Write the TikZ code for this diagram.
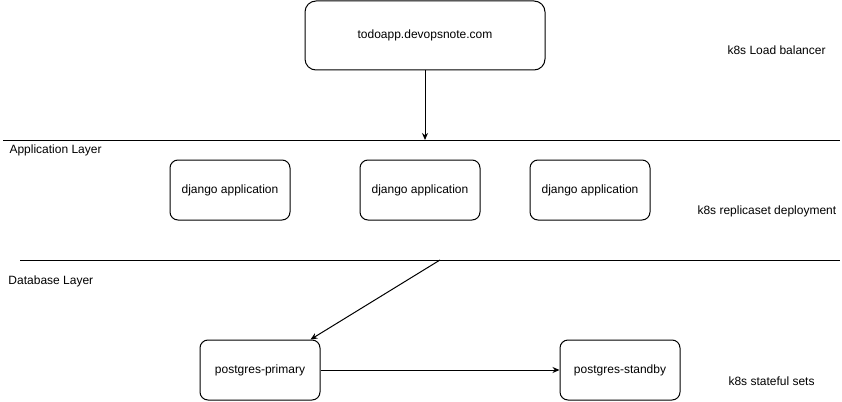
\documentclass[tikz,border=0pt]{standalone}
\usepackage{fontspec}
\setmainfont{Liberation Sans}
\usetikzlibrary{arrows.meta}

\begin{document}
\begin{tikzpicture}[x=1pt, y=-1pt, line width=1pt,
  every node/.style = {font=\fontsize{12}{14}\selectfont},
  podbox/.style = {shape=rectangle, rounded corners=8pt, draw,
    align=center, minimum width=120pt, minimum height=60pt},
  note/.style = {anchor=west, inner sep=0pt},
  link/.style = {-{Stealth[length=7pt, width=6pt]}}]
  \useasboundingbox (0,0) rectangle (842,401);
  % load balancer
  \node[podbox, rounded corners=11pt, minimum width=240pt,
    minimum height=69pt] (lb) at (425,35.5) {todoapp.devopsnote.com};
  \node[note] (lbnote) at (727,50) {k8s Load balancer};
  % layer borders
  \coordinate (appl) at (3,140);
  \coordinate (appr) at (840,140);
  \coordinate (dbl) at (20,260);
  \coordinate (dbr) at (840,260);
  \draw (appl) -- (appr);
  \draw (dbl) -- (dbr);
  \node[note] (applabel) at (9,150) {Application Layer};
  \node[note] (dblabel) at (8,281) {Database Layer};
  % application layer
  \node[podbox] (app1) at (230,190) {django application};
  \node[podbox] (app2) at (420,190) {django application};
  \node[podbox] (app3) at (590,190) {django application};
  \node[note] (appnote) at (697,211) {k8s replicaset deployment};
  % database layer
  \node[podbox] (primary) at (260,370) {postgres-primary};
  \node[podbox] (standby) at (620,370) {postgres-standby};
  \node[note] (dbnote) at (728,381) {k8s stateful sets};
  % connectors
  \coordinate (lbin) at (425,140);
  \coordinate (dbin) at (440,260);
  \draw[link] (lb.south) -- (lbin);
  \draw[link] (dbin) -- ([xshift=-10pt]primary.north east);
  \draw[link] (primary.east) -- (standby.west);
\end{tikzpicture}
\end{document}
